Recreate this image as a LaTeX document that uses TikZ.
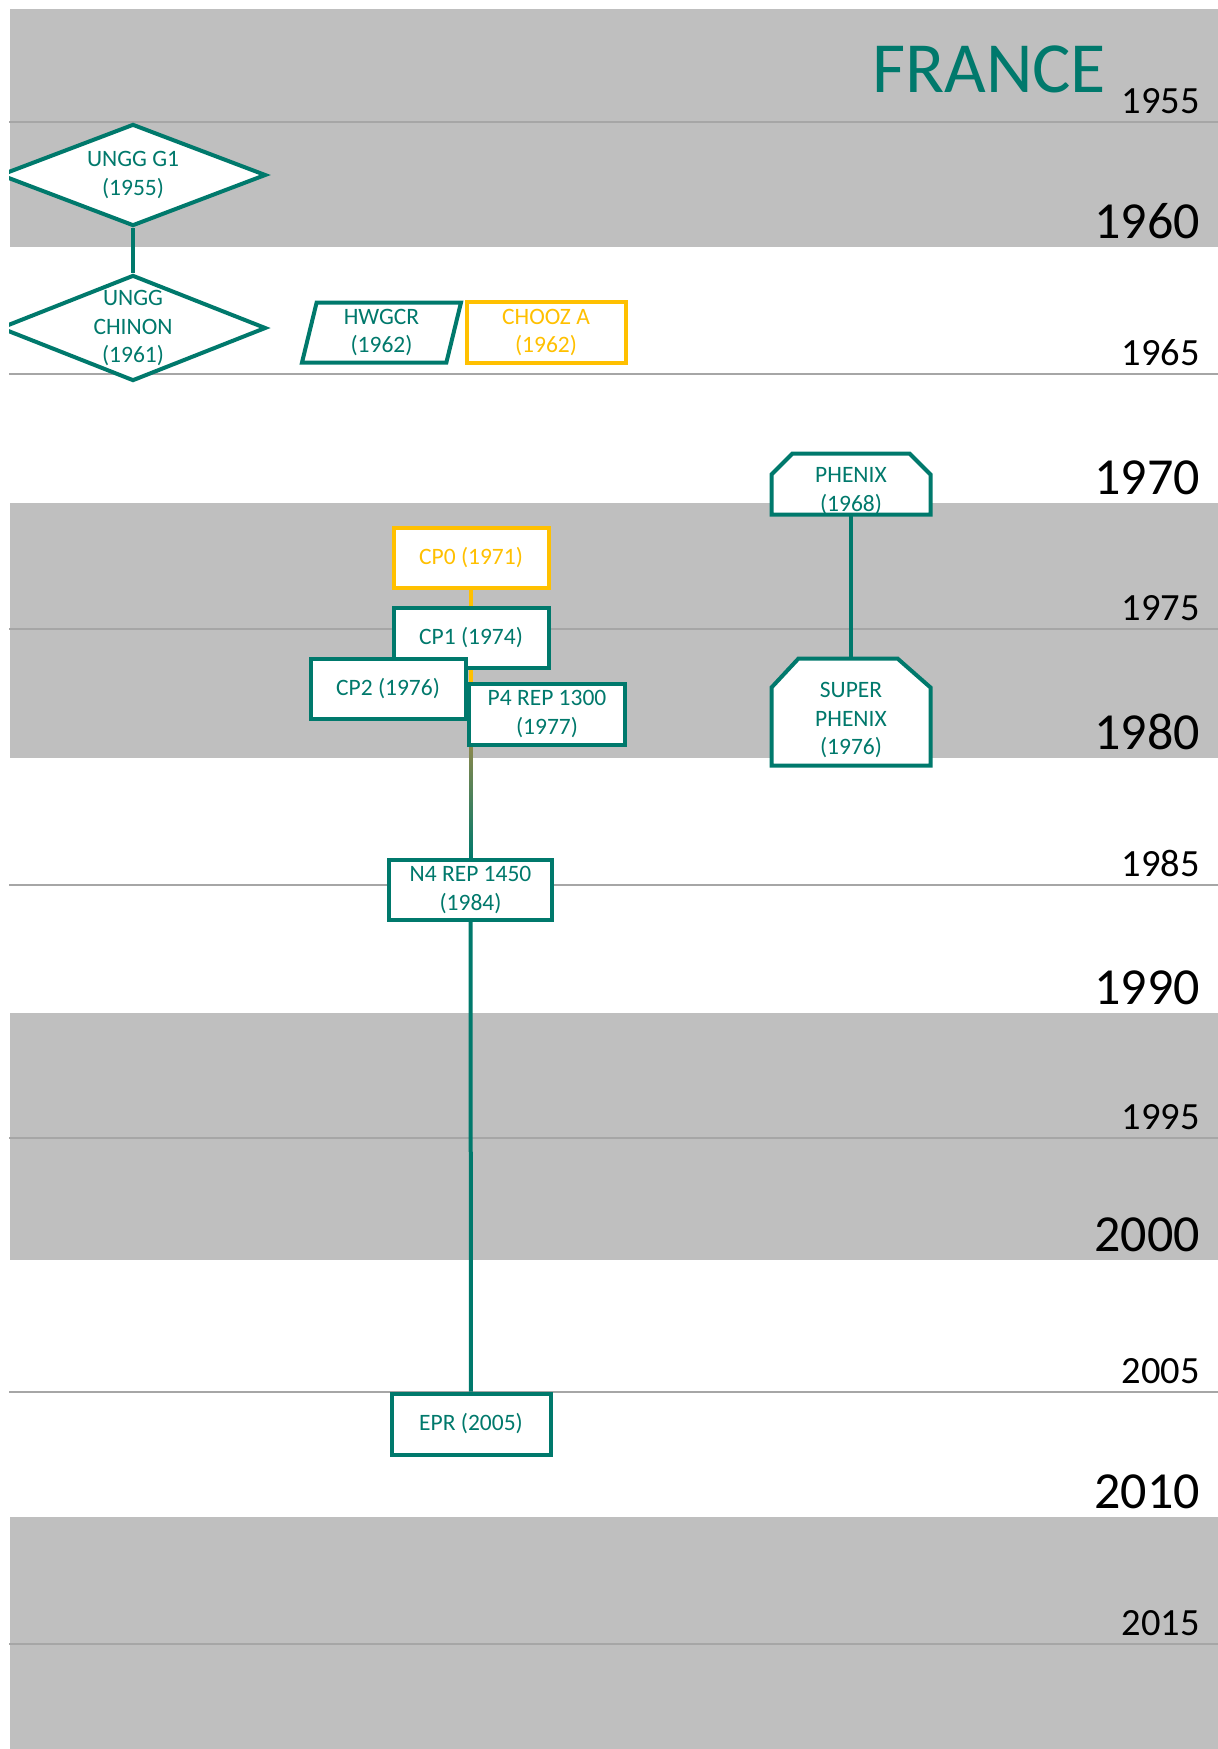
\documentclass[tikz,border=0pt]{standalone}
\usepackage{fontspec}
\setmainfont{Carlito}
\usepackage{xcolor}
\usepackage{tikz}
\usetikzlibrary{shapes,shapes.geometric,calc,positioning,backgrounds}

\definecolor{reactorteal}{RGB}{0,121,108}
\definecolor{reactorgold}{HTML}{FFC000}
\definecolor{linkolive}{RGB}{138,136,76}
\definecolor{bandgray}{HTML}{BFBFBF}
\definecolor{linegray}{HTML}{A6A6A6}

\begin{document}
\begin{tikzpicture}[
    x=1pt, y=-1pt,
    band/.style={fill=bandgray, draw=none},
    tickline/.style={draw=linegray, line width=1.5pt},
    smallyear/.style={anchor=base east, inner sep=0pt, font=\fontsize{38.5}{40}\selectfont},
    bigyear/.style={anchor=base east, inner sep=0pt, font=\fontsize{52}{54}\selectfont},
    nodetext/.style={text=reactorteal, align=center, font=\fontsize{23.5}{28.5}\selectfont},
    reactor/.style={nodetext, rectangle, draw=reactorteal, fill=white, line width=4pt,
        minimum width=155pt, minimum height=60pt, inner sep=2pt},
    goldreactor/.style={reactor, draw=reactorgold, text=reactorgold},
    gasreactor/.style={diamond, draw=reactorteal, fill=white, line width=4pt,
        minimum width=266pt, inner sep=0pt},
    heavywater/.style={reactor, trapezium, trapezium left angle=74, trapezium right angle=106,
        trapezium stretches body=true},
    fastbox/.style={rectangle, minimum width=159pt, inner sep=0pt, outer sep=0pt},
    fastoutline/.style={draw=reactorteal, fill=white, line width=4pt},
    link/.style={draw=reactorteal, line width=4pt}
]
\useasboundingbox (0,0) rectangle (1218,1749);

% Bands and year lines
\begin{scope}[on background layer]
\fill[band] (10,9) rectangle (1218,247);
\fill[band] (10,503) rectangle (1218,758);
\fill[band] (10,1013) rectangle (1218,1260);
\fill[band] (10,1517) rectangle (1218,1749);
\draw[tickline] (9,122) -- (1218,122);
\draw[tickline] (9,374) -- (1218,374);
\draw[tickline] (9,629) -- (1218,629);
\draw[tickline] (9,885) -- (1218,885);
\draw[tickline] (9,1138) -- (1218,1138);
\draw[tickline] (9,1392) -- (1218,1392);
\draw[tickline] (9,1644) -- (1218,1644);
\end{scope}

\clip (9,0) rectangle (1218,1749);

% Title
\node[anchor=base west, inner sep=0pt, text=reactorteal, font=\fontsize{72}{74}\selectfont] (title) at (872,92) {FRANCE};

% Years
\node[smallyear] (y1955) at (1200,113.5) {1955};
\node[bigyear] (y1960) at (1200,238.5) {1960};
\node[smallyear] (y1965) at (1200,365.5) {1965};
\node[bigyear] (y1970) at (1200,494.5) {1970};
\node[smallyear] (y1975) at (1200,620.5) {1975};
\node[bigyear] (y1980) at (1200,749.5) {1980};
\node[smallyear] (y1985) at (1200,876.5) {1985};
\node[bigyear] (y1990) at (1200,1004.5) {1990};
\node[smallyear] (y1995) at (1200,1129.5) {1995};
\node[bigyear] (y2000) at (1200,1251.5) {2000};
\node[smallyear] (y2005) at (1200,1383.5) {2005};
\node[bigyear] (y2010) at (1200,1508.5) {2010};
\node[smallyear] (y2015) at (1200,1635.5) {2015};

% Gas-graphite
\node[gasreactor, minimum height=102pt,
    label={[nodetext]center:{UNGG G1\\(1955)}}] (g1) at (133,175) {};
\node[gasreactor, minimum height=106pt,
    label={[nodetext]center:{UNGG\\CHINON\\(1961)}}] (chinon) at (133,328) {};
\draw[link] (g1) -- (chinon);

% 1962
\node[heavywater, minimum width=159pt] (hwgcr) at (381.5,332.5) {HWGCR\\(1962)};
\node[goldreactor, minimum width=159pt, minimum height=61pt] (chooz) at (546,332.5) {CHOOZ A\\(1962)};

% Fast breeders
\node[fastbox, minimum height=61pt,
    label={[nodetext, yshift=-7pt]center:{PHENIX\\(1968)}}] (phenix) at (851,484) {};
\node[fastbox, minimum height=107pt,
    label={[nodetext, yshift=-8pt]center:{SUPER\\PHENIX\\(1976)}}] (superphenix) at (851,712) {};
\begin{scope}[on background layer]
\filldraw[fastoutline] (phenix.south west) -- ($(phenix.north west)+(0,21)$)
    -- ($(phenix.north west)+(21,0)$) -- ($(phenix.north east)+(-21,0)$)
    -- ($(phenix.north east)+(0,21)$) -- (phenix.south east) -- cycle;
\filldraw[fastoutline] (superphenix.south west) -- ($(superphenix.north west)+(0,29)$)
    -- ($(superphenix.north west)+(27,0)$) -- ($(superphenix.north east)+(-33,0)$)
    -- ($(superphenix.north east)+(0,29)$) -- (superphenix.south east) -- cycle;
\end{scope}
\draw[link] (phenix) -- (superphenix);

% PWR
\node[goldreactor] (cp0) at (471,558) {CP0 (1971)};
\node[reactor] (cp1) at (471,638) {CP1 (1974)};
\node[reactor] (cp2) at (388,689) {CP2 (1976)};
\node[reactor, minimum width=156pt, minimum height=61pt] (p4) at (547,714) {P4 REP 1300\\(1977)};
\node[reactor, minimum width=163pt] (n4) at (470.5,890) {N4 REP 1450\\(1984)};
\node[reactor, minimum width=159pt, minimum height=61pt] (epr) at (471,1424) {EPR (2005)};

\begin{scope}[on background layer]
\fill[reactorgold] ($(cp0.south)+(-2,0)$) rectangle ($(cp0.south |- p4.south)+(2,0)$);
\shade[top color=linkolive, bottom color=reactorteal]
    ($(cp0.south |- p4.south)+(-2,0)$) rectangle ($(n4.north)+(2,0)$);
\end{scope}
\draw[link] (n4) -- (epr);

\end{tikzpicture}
\end{document}
